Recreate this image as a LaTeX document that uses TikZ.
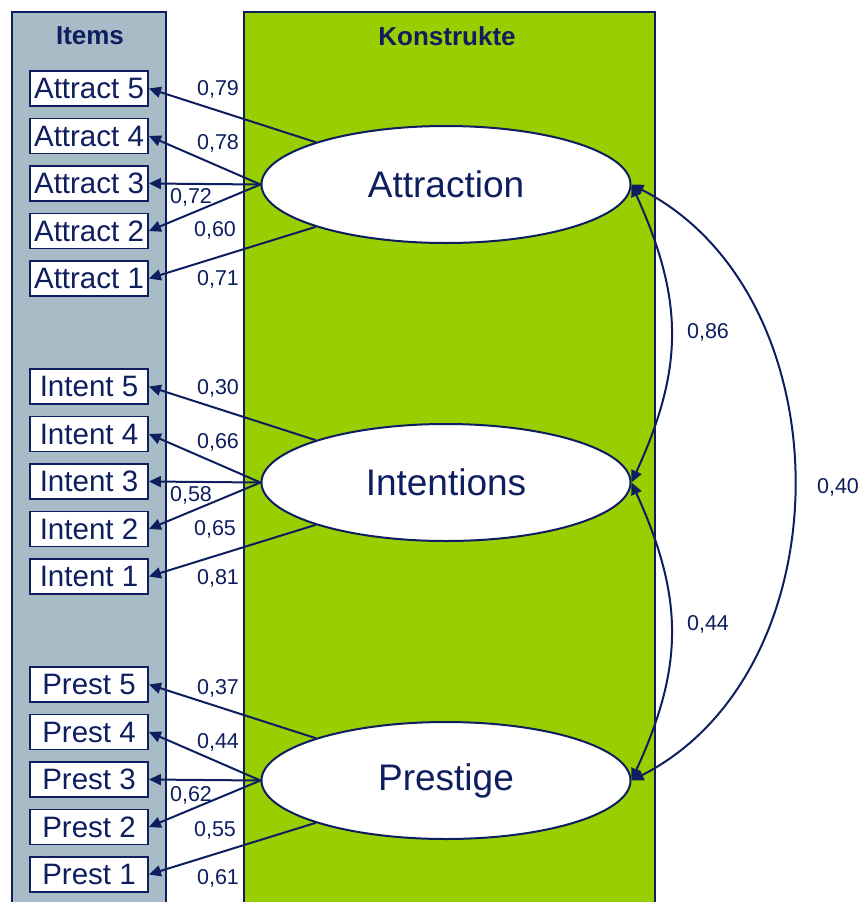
\documentclass[tikz,border=0pt]{standalone}
\usepackage{fontspec}
\setmainfont{Liberation Sans}
\usetikzlibrary{shapes.geometric,arrows.meta}
\definecolor{navy}{RGB}{14,30,94}
\definecolor{itemsbg}{RGB}{168,188,200}
\definecolor{konbg}{RGB}{153,206,0}
\begin{document}
\begin{tikzpicture}[x=1pt,y=-1pt,
  itembox/.style={draw=navy, fill=white, line width=1.8pt, minimum width=118pt, minimum height=35pt, inner sep=0pt, text=navy, font=\fontsize{29.5}{30}\selectfont},
  latent/.style={ellipse, draw=navy, fill=white, line width=2pt, minimum width=369pt, minimum height=117pt, inner sep=0pt, text=navy, font=\fontsize{37}{40}\selectfont},
  load/.style={text=navy, font=\fontsize{21.5}{22}\selectfont, inner sep=0pt},
  conn/.style={draw=navy, line width=2pt, -{Triangle[length=12pt,width=11pt]}},
  bconn/.style={draw=navy, line width=2pt, {Triangle[length=12pt,width=11pt]}-{Triangle[length=12pt,width=11pt]}},
  head/.style={text=navy, font=\bfseries\fontsize{26}{28}\selectfont, inner sep=0pt},
  panel/.style={draw=navy, line width=1.8pt}
]
\path[use as bounding box] (0,0) rectangle (864,902);
\draw[panel, fill=itemsbg] (12,12) rectangle (166,915);
\draw[panel, fill=konbg] (244,12) rectangle (655,915);
\node[head] (hitems) at (90,36) {Items};
\node[head] (hkon) at (447,36) {Konstrukte};

% latent variables
\node[latent] (att) at (446,184.5) {Attraction};
\node[latent] (int) at (446,482.5) {Intentions};
\node[latent] (pre) at (446,780.5) {Prestige};

% items
\foreach \g/\c/\lab in {att/184.5/Attract, int/482.5/Intent, pre/780.5/Prest}{
  \foreach \i/\dy in {5/-96, 4/-48.5, 3/-1, 2/46.5, 1/94}{
    \node[itembox] (\g\i) at (89,\c+\dy) {\lab\ \i};
  }
}

% loadings
\foreach \g in {att,int,pre}{
  \draw[conn] (\g.162) -- (\g5.east);
  \draw[conn] (\g.west) -- (\g4.east);
  \draw[conn] (\g.west) -- (\g3.east);
  \draw[conn] (\g.west) -- (\g2.east);
  \draw[conn] (\g.198) -- (\g1.east);
}

% loading labels
\node[load] (la5) at (218,89) {0,79};
\node[load] (la4) at (218,143) {0,78};
\node[load] (la3) at (191,197) {0,72};
\node[load] (la2) at (215,230) {0,60};
\node[load] (la1) at (218,279) {0,71};

\node[load] (li5) at (218,388) {0,30};
\node[load] (li4) at (218,442) {0,66};
\node[load] (li3) at (191,495) {0,58};
\node[load] (li2) at (215,529) {0,65};
\node[load] (li1) at (218,578) {0,81};

\node[load] (lp5) at (218,688) {0,37};
\node[load] (lp4) at (218,742) {0,44};
\node[load] (lp3) at (191,795) {0,62};
\node[load] (lp2) at (215,830) {0,55};
\node[load] (lp1) at (218,878) {0,61};

% correlations
\draw[bconn] (att.east) .. controls (684,300) and (684,368) .. (int.east);
\draw[bconn] (int.east) .. controls (684,598) and (684,666) .. (pre.east);
\draw[bconn] (att.east) .. controls (847,295) and (847,671) .. (pre.east);
\node[load] (c1) at (708,332) {0,86};
\node[load] (c2) at (708,624) {0,44};
\node[load] (c3) at (838,487) {0,40};
\end{tikzpicture}
\end{document}
